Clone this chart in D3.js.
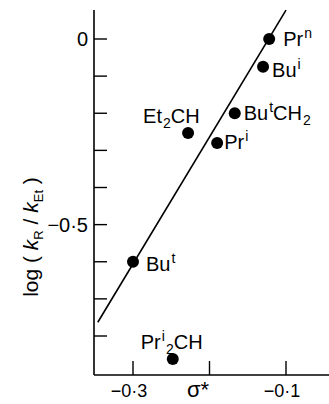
<!DOCTYPE html>
<html>
<head>
<meta charset="utf-8">
<script src="https://cdn.jsdelivr.net/npm/d3@7"></script>
<style>
  body { margin: 0; background: #fff; }
  svg { display: block; font-family: "Liberation Sans", Arial, sans-serif; }
</style>
</head>
<body>
<div id="chart"></div>
<script>
// data
const groups = ['Prn', 'Bui', 'ButCH2', 'Et2CH', 'Pri', 'But', 'Pri2CH'];
const sigmaStar = [-0.122, -0.130, -0.167, -0.228, -0.190, -0.300, -0.248];
const logRatio = [0.0, -0.075, -0.20, -0.253, -0.28, -0.60, -0.862];

// label text pieces: [text, kind]
const labelParts = {
  Prn: [['Pr', 'n'], ['n', 'sup']],
  Bui: [['Bu', 'n'], ['i', 'sup']],
  ButCH2: [['Bu', 'n'], ['t', 'sup'], ['CH', 'n'], ['2', 'sub']],
  Et2CH: [['Et', 'n'], ['2', 'sub'], ['CH', 'n']],
  Pri: [['Pr', 'n'], ['i', 'sup']],
  But: [['Bu', 'n'], ['t', 'sup']],
  Pri2CH: [['Pr', 'n'], ['i', 'sup'], ['2', 'sub'], ['CH', 'n']]
};

// straight line drawn through the points in the figure
const fitSigma = [-0.346, -0.10];
const fitLog = [-0.763, 0.078];

const xTicks = [-0.3, -0.2, -0.1];
const xTickLabels = {'-0.3': '\u22120\u00b73', '-0.1': '\u22120\u00b71'};
const yTicks = [0, -0.1, -0.2, -0.3, -0.4, -0.5, -0.6, -0.7, -0.8];
const yTickLabels = {'0': '0', '-0.5': '\u22120\u00b75'};

const w = 329, h = 404;

const x = d3.scaleLinear().domain([-0.3, -0.1]).range([133, 286]);
const y = d3.scaleLinear().domain([0, -0.8]).range([39, 336]);

const svg = d3.select('#chart').append('svg')
  .attr('width', w).attr('height', h);

const axisX0 = 94, axisY0 = 375;

// axes lines
svg.append('line')
  .attr('x1', axisX0).attr('x2', axisX0)
  .attr('y1', 10).attr('y2', axisY0)
  .attr('stroke', '#000').attr('stroke-width', 1.6);
svg.append('line')
  .attr('x1', axisX0).attr('x2', w)
  .attr('y1', axisY0).attr('y2', axisY0)
  .attr('stroke', '#000').attr('stroke-width', 1.6);

// y ticks point inward
svg.selectAll('.ytick').data(yTicks).enter().append('line')
  .attr('class', 'ytick')
  .attr('x1', axisX0).attr('x2', axisX0 + 13)
  .attr('y1', d => y(d)).attr('y2', d => y(d))
  .attr('stroke', '#000').attr('stroke-width', 1.4);

svg.selectAll('.ylab').data(yTicks.filter(d => yTickLabels[String(d)])).enter().append('text')
  .attr('class', 'ylab')
  .attr('x', 88).attr('y', d => y(d) + 7)
  .attr('text-anchor', 'end')
  .attr('font-size', 20)
  .text(d => yTickLabels[String(d)]);

// x ticks point up
svg.selectAll('.xtick').data(xTicks).enter().append('line')
  .attr('class', 'xtick')
  .attr('x1', d => x(d)).attr('x2', d => x(d))
  .attr('y1', axisY0).attr('y2', axisY0 - 14)
  .attr('stroke', '#000').attr('stroke-width', 1.4);

svg.selectAll('.xlab').data(xTicks.filter(d => xTickLabels[String(d)])).enter().append('text')
  .attr('class', 'xlab')
  .attr('x', d => x(d) - 4).attr('y', 397)
  .attr('text-anchor', 'middle')
  .attr('font-size', 18)
  .text(d => xTickLabels[String(d)]);

// axis titles
svg.append('text')
  .attr('x', 187).attr('y', 397)
  .attr('font-size', 22)
  .text('\u03c3*');

const ylab = svg.append('text')
  .attr('transform', 'translate(38,237) rotate(-90)')
  .attr('text-anchor', 'middle')
  .attr('font-size', 21);
ylab.append('tspan').text('log ( ');
ylab.append('tspan').attr('font-style', 'italic').text('k');
ylab.append('tspan').attr('font-size', 13).attr('dy', 5).text('R');
ylab.append('tspan').attr('dy', -5).text('  /  ');
ylab.append('tspan').attr('font-style', 'italic').text('k');
ylab.append('tspan').attr('font-size', 13).attr('dy', 5).text('Et');
ylab.append('tspan').attr('dy', -5).text(' )');

// fitted line
const lineData = fitSigma.map((s, i) => [s, fitLog[i]]);
svg.append('path')
  .datum(lineData)
  .attr('d', d3.line().x(d => x(d[0])).y(d => y(d[1])))
  .attr('stroke', '#000').attr('stroke-width', 1.6).attr('fill', 'none');

// points
const pts = groups.map((g, i) => ({g, s: sigmaStar[i], v: logRatio[i]}));
svg.selectAll('circle').data(pts).enter().append('circle')
  .attr('cx', d => x(d.s)).attr('cy', d => y(d.v))
  .attr('r', 6).attr('fill', '#000');

// label offsets from each point
const labelOffset = {
  Prn: [14, 7], Bui: [9, 10], ButCH2: [9, 7], Et2CH: [-45, -10],
  Pri: [7, 6], But: [13, 9], Pri2CH: [-32, -10]
};

pts.forEach(p => {
  const [dx, dy] = labelOffset[p.g];
  const t = svg.append('text')
    .attr('x', x(p.s) + dx).attr('y', y(p.v) + dy)
    .attr('font-size', 20);
  let shift = 0;
  labelParts[p.g].forEach(([txt, kind]) => {
    const target = kind === 'sup' ? -8 : kind === 'sub' ? 5 : 0;
    const ts = t.append('tspan').attr('dy', target - shift).text(txt);
    if (kind !== 'n') ts.attr('font-size', 14).attr('dx', 1);
    shift = target;
  });
});
</script>
</body>
</html>
